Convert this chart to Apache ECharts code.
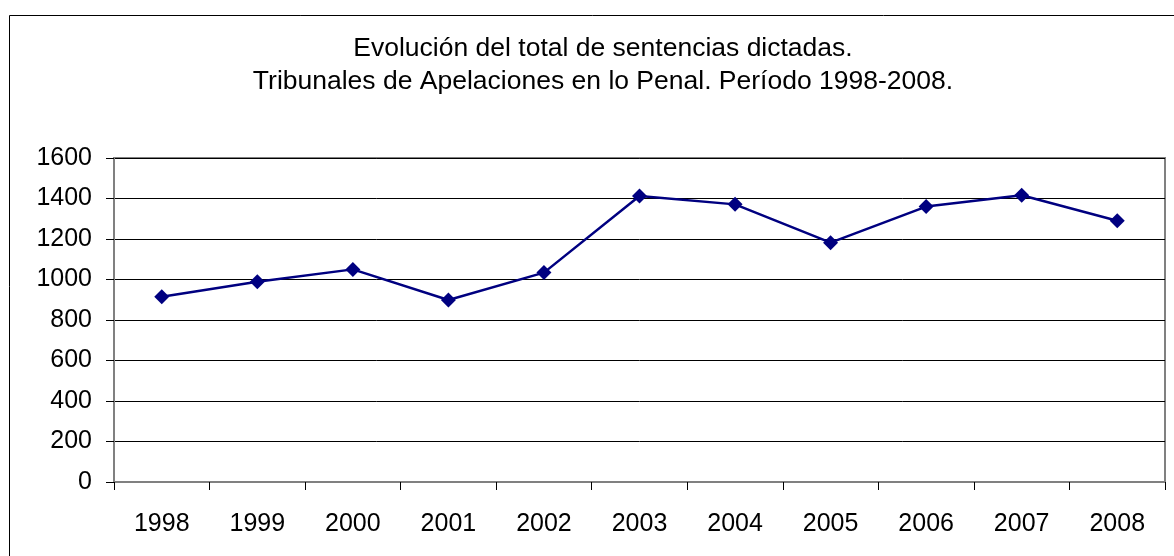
<!DOCTYPE html>
<html>
<head>
<meta charset="utf-8">
<script src="https://cdn.jsdelivr.net/npm/echarts@6/dist/echarts.min.js"></script>
<style>
  html, body { margin: 0; padding: 0; background: #fff; }
  #chart { width: 1174px; height: 556px; }
</style>
</head>
<body>
<div id="chart"></div>
<script>
const years = ['1998', '1999', '2000', '2001', '2002', '2003', '2004', '2005', '2006', '2007', '2008'];
const sentencias = [915, 989, 1050, 899, 1034, 1412, 1371, 1182, 1360, 1416, 1290];
const titleLines = [
  'Evolución del total de sentencias dictadas.',
  'Tribunales de Apelaciones en lo Penal. Período 1998-2008.'
];

const chart = echarts.init(document.getElementById('chart'), null, { renderer: 'canvas' });

const option = {
  backgroundColor: '#fff',
  animation: false,
  textStyle: { fontFamily: 'Liberation Sans, Arial, sans-serif' },
  title: {
    text: titleLines.join('\n'),
    left: 598,
    textAlign: 'center',
    top: 27,
    textStyle: {
      fontSize: 26.5,
      fontWeight: 'normal',
      color: '#000',
      lineHeight: 33
    }
  },
  // outer chart frame
  graphic: [{
    type: 'rect',
    shape: { x: 9.5, y: 15.5, width: 1180, height: 560 },
    style: { fill: 'none', stroke: '#000', lineWidth: 1 },
    silent: true
  }],
  grid: {
    left: 114,
    top: 158,
    right: 9,
    bottom: 74,
    show: true,
    borderColor: '#808080',
    borderWidth: 2
  },
  xAxis: {
    type: 'category',
    data: years,
    boundaryGap: true,
    axisLine: { lineStyle: { color: '#808080', width: 2 } },
    axisTick: { show: true, length: 8, lineStyle: { color: '#000', width: 1 } },
    axisLabel: { fontSize: 25, color: '#000', margin: 30 },
    splitLine: { show: false }
  },
  yAxis: {
    type: 'value',
    min: 0,
    max: 1600,
    interval: 200,
    axisLine: { show: true, lineStyle: { color: '#808080', width: 2 } },
    axisTick: { show: true, length: 8, lineStyle: { color: '#000', width: 1 } },
    axisLabel: { fontSize: 25, color: '#000', margin: 22, formatter: v => String(v) },
    splitLine: { show: true, lineStyle: { color: '#000', width: 1 } }
  },
  series: [{
    type: 'line',
    data: sentencias,
    symbol: 'diamond',
    symbolSize: 15,
    lineStyle: { color: '#000080', width: 2.5 },
    itemStyle: { color: '#000080' }
  }]
};

chart.setOption(option);
</script>
</body>
</html>
